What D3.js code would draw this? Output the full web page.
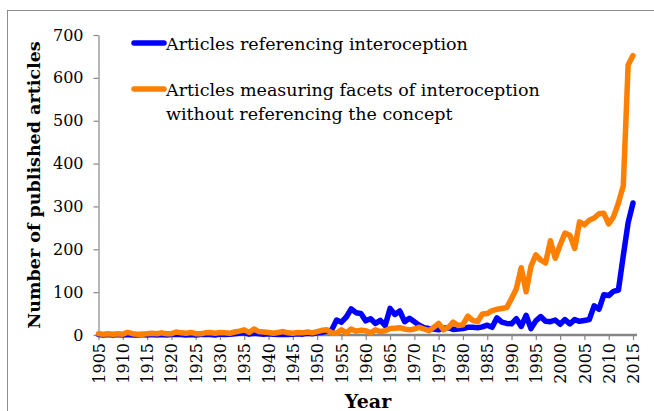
<!DOCTYPE html>
<html><head><meta charset="utf-8">
<script src="https://cdn.jsdelivr.net/npm/d3@7"></script>
<style>body{margin:0;background:#fff}svg{display:block}</style>
</head><body>
<svg id="c" width="654" height="411"></svg>
<script>
const startYear = 1905, endYear = 2015;
const years = d3.range(startYear, endYear + 1);
const referencing = [
 1,0,1,0,1,0,1,0,0,1,
 0,1,0,1,0,1,2,1,0,1,
 0,1,2,1,0,2,1,2,3,4,
 5,2,4,3,2,3,2,1,2,1,
 2,3,2,4,3,5,
 6,9,12,35,30,42,61,52,50,
 33,38,27,34,22,62,48,56,31,39,
 31,23,17,15,14,12,16,17,13,14,
 15,18,18,17,19,23,18,40,30,27,
 26,38,20,46,15,33,43,32,31,35,
 25,36,26,36,32,34,36,68,60,94,
 92,102,105,185,262,308];
const measuring = [
 3,2,3,2,3,2,6,3,2,2,
 3,4,3,5,3,3,7,5,4,6,
 3,3,5,6,4,6,5,4,7,9,
 12,6,14,8,7,6,4,6,8,5,
 4,6,5,7,5,8,
 11,12,5,4,12,5,14,9,11,
 10,5,12,8,10,15,16,17,14,12,
 14,18,14,10,18,27,12,18,30,22,
 24,44,34,31,49,50,57,60,62,64,
 85,108,157,101,160,187,175,168,220,179,
 210,238,233,202,264,257,268,273,283,284,
 259,276,308,348,630,652];
const yTicks = [0,100,200,300,400,500,600,700];
const xTicks = d3.range(1905, 2016, 5);
const seriesNames = ["Articles referencing interoception",
  ["Articles measuring facets of interoception","without referencing the concept"]];
const colors = ["#0000ff", "#ff8000"];

const svg = d3.select("#c");
const axisColor = "#868686";
const numFont = "DejaVu Serif";

// outer frame
svg.append("rect").attr("x",7.5).attr("y",10.5).attr("width",700).attr("height",500)
  .attr("fill","none").attr("stroke","#8c8c8c").attr("stroke-width",1);

const x = d3.scaleLinear().domain([startYear, endYear]).range([98.5, 633]);
const y = d3.scaleLinear().domain([0, 700]).range([335, 35]);

// y axis
const ya = svg.append("g").attr("transform","translate(98.5,0)")
  .call(d3.axisLeft(y).tickValues(yTicks).tickSize(5).tickPadding(10).tickSizeOuter(0));
ya.select(".domain").attr("stroke",axisColor).attr("stroke-width",1.2);
ya.selectAll(".tick line").attr("stroke",axisColor).attr("stroke-width",1.2);
ya.selectAll(".tick text").attr("font-family",numFont).attr("font-size",16).attr("fill","#000");

// x axis
const xa = svg.append("g").attr("transform","translate(0,335)")
  .call(d3.axisBottom(x).tickValues(xTicks).tickFormat(d3.format("d")).tickSize(5).tickSizeOuter(0));
xa.select(".domain").attr("stroke",axisColor).attr("stroke-width",2.5).attr("d","M98.5,0H637");
xa.selectAll(".tick line").attr("stroke",axisColor).attr("stroke-width",1.2);
xa.selectAll(".tick text").attr("font-family",numFont).attr("font-size",16).attr("fill","#000")
  .attr("transform","rotate(-90)").attr("text-anchor","end").attr("dy","0.35em")
  .attr("x",-8).attr("y",0);

// lines (orange drawn on top, as in the original)
const line = d3.line().x((d,i)=>x(years[i])).y(d=>y(d)).curve(d3.curveLinear);
svg.append("path").datum(referencing).attr("d",line).attr("fill","none")
  .attr("stroke",colors[0]).attr("stroke-width",5.5).attr("stroke-linejoin","round").attr("stroke-linecap","round");
svg.append("path").datum(measuring).attr("d",line).attr("fill","none")
  .attr("stroke",colors[1]).attr("stroke-width",5.5).attr("stroke-linejoin","round").attr("stroke-linecap","round");

// axis titles
svg.append("text").attr("transform","translate(40,185) rotate(-90)").attr("text-anchor","middle")
  .attr("font-family","DejaVu Serif").attr("font-weight","bold").attr("font-size",17.5)
  .text("Number of published articles");
svg.append("text").attr("x",368).attr("y",408).attr("text-anchor","middle")
  .attr("font-family","DejaVu Serif").attr("font-weight","bold").attr("font-size",19)
  .text("Year");

// legend
const lg = svg.append("g").attr("font-family","DejaVu Serif").attr("font-size",17.5);
lg.append("line").attr("x1",134).attr("x2",164).attr("y1",43).attr("y2",43)
  .attr("stroke",colors[0]).attr("stroke-width",5.5).attr("stroke-linecap","round");
lg.append("text").attr("x",166).attr("y",50).text(seriesNames[0]);
lg.append("line").attr("x1",134).attr("x2",164).attr("y1",89).attr("y2",89)
  .attr("stroke",colors[1]).attr("stroke-width",5.5).attr("stroke-linecap","round");
lg.append("text").attr("x",166).attr("y",96).text(seriesNames[1][0]);
lg.append("text").attr("x",166).attr("y",120).text(seriesNames[1][1]);
</script>
</body></html>
